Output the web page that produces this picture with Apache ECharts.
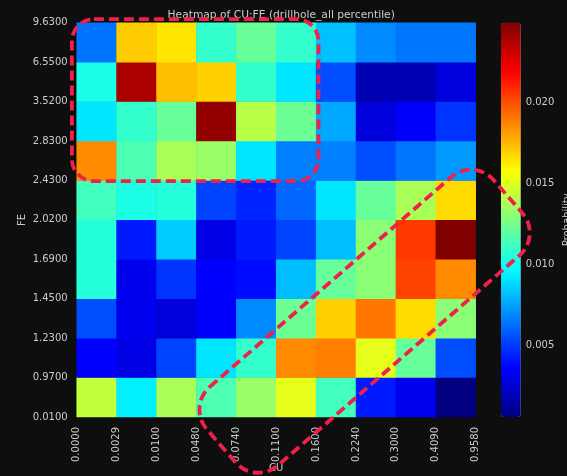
<!DOCTYPE html>
<html>
<head>
<meta charset="utf-8">
<script src="https://cdn.jsdelivr.net/npm/echarts@6/dist/echarts.min.js"></script>
<style>
html,body{margin:0;padding:0;background:#0e0e0e;}
#main{width:567px;height:476px;}
</style>
</head>
<body>
<div id="main"></div>
<script>
// Bin edges (tick labels)
const cuEdges = ['0.0000','0.0029','0.0100','0.0480','0.0740','0.1100','0.1600','0.2240','0.3000','0.4090','0.9580'];
const feEdges = ['0.0100','0.9700','1.2300','1.4500','1.6900','2.0200','2.4300','2.8300','3.5200','6.5500','9.6300'];

// Probability per cell, rows from lowest FE bin (bottom) to highest (top), columns CU bins left to right
const feRow0 = [0.01435, 0.00934, 0.01374, 0.01154, 0.01337, 0.01520, 0.01130, 0.00422, 0.00324, 0.00056];
const feRow1 = [0.00361, 0.00300, 0.00520, 0.00910, 0.01093, 0.01862, 0.01886, 0.01520, 0.01215, 0.00544];
const feRow2 = [0.00544, 0.00324, 0.00276, 0.00349, 0.00690, 0.01227, 0.01691, 0.01910, 0.01666, 0.01300];
const feRow3 = [0.01056, 0.00324, 0.00483, 0.00361, 0.00385, 0.00812, 0.01215, 0.01300, 0.02032, 0.01862];
const feRow4 = [0.01056, 0.00422, 0.00849, 0.00300, 0.00422, 0.00520, 0.00812, 0.01300, 0.02057, 0.02496];
const feRow5 = [0.01130, 0.01032, 0.01056, 0.00520, 0.00446, 0.00605, 0.00910, 0.01215, 0.01374, 0.01666];
const feRow6 = [0.01856, 0.01154, 0.01374, 0.01337, 0.00910, 0.00666, 0.00666, 0.00544, 0.00642, 0.00727];
const feRow7 = [0.00910, 0.01093, 0.01215, 0.02447, 0.01410, 0.01227, 0.00764, 0.00276, 0.00349, 0.00483];
const feRow8 = [0.01032, 0.02391, 0.01734, 0.01691, 0.01093, 0.00910, 0.00544, 0.00178, 0.00178, 0.00276];
const feRow9 = [0.00634, 0.01703, 0.01642, 0.01093, 0.01215, 0.01093, 0.00819, 0.00690, 0.00642, 0.00642];

const colorbarTicks = [0.005, 0.010, 0.015, 0.020];
const vMin = 0.00056, vMax = 0.02496;

const rows = [feRow0, feRow1, feRow2, feRow3, feRow4, feRow5, feRow6, feRow7, feRow8, feRow9];
const cellData = [];
rows.forEach((row, yi) => row.forEach((v, xi) => cellData.push([xi, yi, v])));
const xCats = cuEdges.slice(0, 10);
const yCats = feEdges.slice(0, 10);

const jet = ['#000080','#0000ff','#0080ff','#00ffff','#80ff80','#ffff00','#ff8000','#ff0000','#800000'];
const txt = '#cccccc';
const font = 'DejaVu Sans';

const G = {left: 76.7, top: 22.7, width: 399, height: 394.3};
const CB = {left: 501, top: 22.7, width: 19.7, height: 394.3};

const chart = echarts.init(document.getElementById('main'));
chart.setOption({
  backgroundColor: '#0e0e0e',
  animation: false,
  title: {
    text: 'Heatmap of CU:FE (drillhole_all percentile)',
    left: G.left + G.width / 2, textAlign: 'center', top: 5,
    textStyle: {color: txt, fontFamily: font, fontSize: 10.7, fontWeight: 'normal'}
  },
  grid: [
    {left: G.left, top: G.top, width: G.width, height: G.height, outerBoundsMode: 'none', containLabel: false},
    {left: CB.left, top: CB.top, width: CB.width, height: CB.height, outerBoundsMode: 'none', containLabel: false}
  ],
  xAxis: [
    {type: 'category', gridIndex: 0, data: xCats, show: false},
    {type: 'value', gridIndex: 0, min: 0, max: 10, interval: 1, position: 'bottom',
     axisLine: {show: false}, axisTick: {show: false}, splitLine: {show: false},
     axisLabel: {rotate: 90, margin: 10, color: txt, fontFamily: font, fontSize: 10,
       formatter: v => cuEdges[Math.round(v)]},
     name: 'CU', nameLocation: 'middle', nameGap: 46, nameMoveOverlap: false,
     nameTextStyle: {color: txt, fontFamily: font, fontSize: 10}},
    {type: 'value', gridIndex: 1, show: false, min: 0, max: 1}
  ],
  yAxis: [
    {type: 'category', gridIndex: 0, data: yCats, show: false},
    {type: 'value', gridIndex: 0, min: 0, max: 10, interval: 1, position: 'left',
     axisLine: {show: false}, axisTick: {show: false}, splitLine: {show: false},
     axisLabel: {margin: 9, color: txt, fontFamily: font, fontSize: 10,
       formatter: v => feEdges[Math.round(v)]},
     name: 'FE', nameLocation: 'middle', nameGap: 49, nameMoveOverlap: false,
     nameTextStyle: {color: txt, fontFamily: font, fontSize: 10}},
    {type: 'value', gridIndex: 1, min: vMin, max: vMax, position: 'right',
     axisLine: {show: false}, splitLine: {show: false},
     axisTick: {show: true, length: 3.5, lineStyle: {color: txt}, customValues: colorbarTicks},
     axisLabel: {margin: 5, color: txt, fontFamily: font, fontSize: 10,
       customValues: colorbarTicks, formatter: v => v.toFixed(3)},
     name: 'Probability', nameLocation: 'middle', nameGap: 42, nameMoveOverlap: false,
     nameTextStyle: {color: txt, fontFamily: font, fontSize: 10}}
  ],
  visualMap: {
    type: 'continuous', min: vMin, max: vMax, seriesIndex: 0,
    orient: 'vertical', left: CB.left, top: CB.top, padding: 0,
    itemWidth: CB.width, itemHeight: CB.height,
    calculable: false, text: null, showLabel: false,
    inRange: {color: jet}
  },
  series: [{
    type: 'heatmap', xAxisIndex: 0, yAxisIndex: 0, data: cellData,
    itemStyle: {borderWidth: 0}, emphasis: {disabled: true}
  }]
});

function px(x, y) { return chart.convertToPixel({xAxisIndex: 1, yAxisIndex: 1}, [x, y]); }
const a0 = px(-0.12, 10.09), a1 = px(6.06, 5.98);
const c2 = px(7.215, 2.43);
const dash = {stroke: '#f0204a', lineWidth: 3.8, lineDash: [10, 5], fill: 'none'};
chart.setOption({
  graphic: [
    {type: 'rect', z: 100, shape: {x: a0[0], y: a0[1], width: a1[0] - a0[0], height: a1[1] - a0[1], r: 22}, style: dash},
    {type: 'rect', z: 100, x: c2[0], y: c2[1], rotation: 41 * Math.PI / 180,
     shape: {x: -190, y: -52, width: 380, height: 104, r: 30}, style: dash}
  ]
});
</script>
</body>
</html>
